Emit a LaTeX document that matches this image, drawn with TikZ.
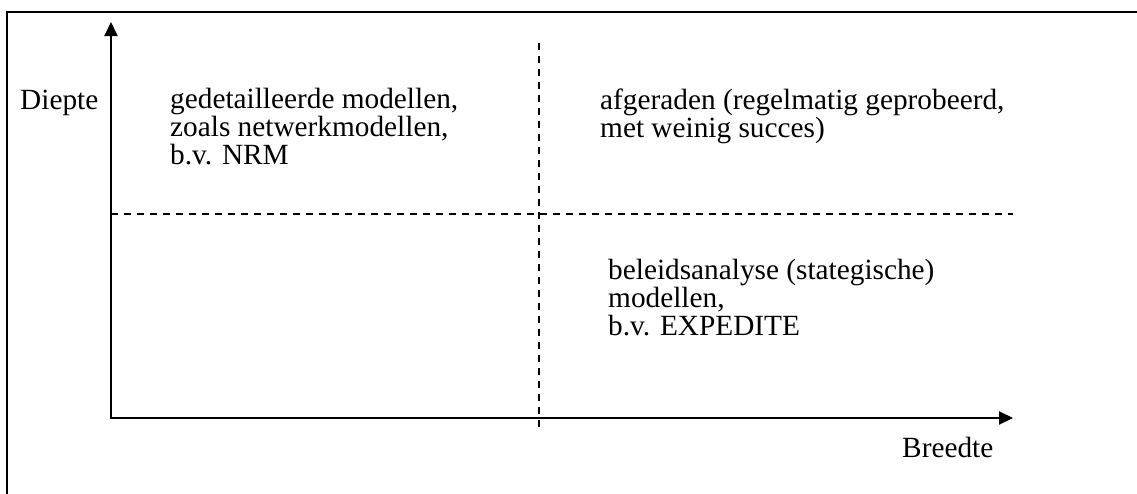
\documentclass[tikz,border=0pt]{standalone}
\usepackage{fontspec}
\setmainfont{Liberation Serif}
\usetikzlibrary{arrows.meta}
\tikzset{axis/.style={{Triangle[length=14pt,width=13pt]}-{Triangle[length=14pt,width=13pt]},line width=2pt},
split/.style={dash pattern=on 7pt off 6pt,line width=2pt},
lbl/.style={anchor=base west,inner sep=0pt,align=left,font=\fontsize{29.3}{27.6}\selectfont}}
\begin{document}
\begin{tikzpicture}[x=1pt,y=-1pt]
\useasboundingbox (0,0) rectangle (1137,493);
\clip (0,0) rectangle (1137,493);
\draw[line width=2pt] (7,12) rectangle (1160,520);
% axes
\coordinate (ytop) at (111,22);
\coordinate (o) at (111,418);
\coordinate (xend) at (1013,418);
\draw[axis] (ytop)--(o)--(xend);
% quadrant lines
\coordinate (vtop) at (539,43); \coordinate (vbot) at (539,430);
\coordinate (hl) at (111,214); \coordinate (hr) at (1013,214);
\draw[split] (vtop)--(vbot);
\draw[split] (hl)--(hr);
% labels (anchor = baseline of last line)
\node[lbl] (diepte) at (20,109) {Diepte};
\node[lbl] (breedte) at (902,457) {Breedte};
\node[lbl] (detail) at (170,164) {gedetailleerde modellen,\\zoals netwerkmodellen,\\b.v. NRM};
\node[lbl] (afgeraden) at (600,137) {afgeraden (regelmatig geprobeerd,\\met weinig succes)};
\node[lbl] (beleid) at (608,335) {beleidsanalyse (stategische)\\modellen,\\b.v. EXPEDITE};
\end{tikzpicture}
\end{document}
